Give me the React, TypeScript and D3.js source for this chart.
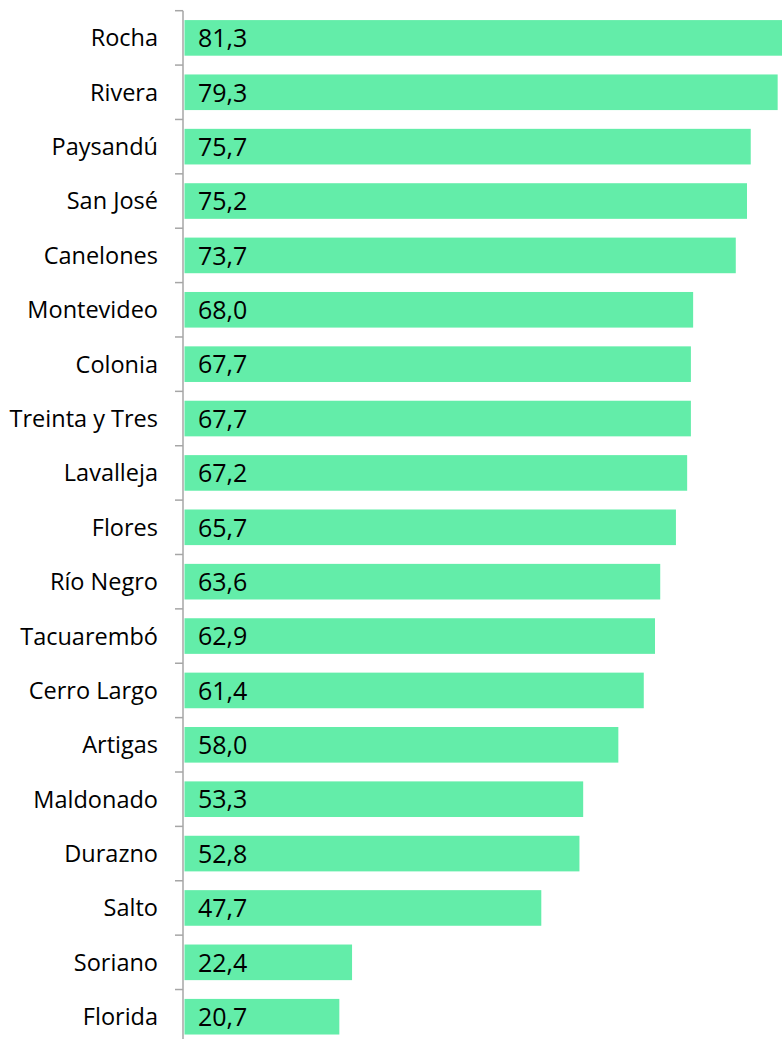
import { useRef, useEffect } from 'react'
import * as d3 from 'd3'

const categories = [
  'Rocha', 'Rivera', 'Paysandú', 'San José', 'Canelones', 'Montevideo', 'Colonia',
  'Treinta y Tres', 'Lavalleja', 'Flores', 'Río Negro', 'Tacuarembó', 'Cerro Largo',
  'Artigas', 'Maldonado', 'Durazno', 'Salto', 'Soriano', 'Florida',
]
const values = [
  81.3, 79.3, 75.7, 75.2, 73.7, 68.0, 67.7, 67.7, 67.2, 65.7, 63.6, 62.9, 61.4,
  58.0, 53.3, 52.8, 47.7, 22.4, 20.7,
]

const width = 782
const height = 1039
const fontFamily = '"Open Sans", sans-serif'

export default function App() {
  const svgRef = useRef<SVGSVGElement>(null)

  useEffect(() => {
    if (!svgRef.current) return
    const svg = d3.select(svgRef.current)
    svg.selectAll('*').remove()

    const data = categories.map((c, i) => ({ name: c, value: values[i] }))

    const x = d3.scaleLinear().domain([0, 80]).range([184.5, 782.9])
    const y = d3.scaleBand<string>()
      .domain(categories)
      .range([10.7, 1043.9])
      .paddingInner(0.345)
      .paddingOuter(0.1725)

    // bars
    svg.append('g')
      .selectAll('rect')
      .data(data)
      .enter()
      .append('rect')
      .attr('x', x(0))
      .attr('y', d => y(d.name)!)
      .attr('width', d => x(d.value) - x(0))
      .attr('height', y.bandwidth())
      .style('fill', '#63eda9')

    // axis line + ticks between categories
    const axis = svg.append('g')
    axis.append('line')
      .attr('x1', 183).attr('x2', 183)
      .attr('y1', 10.7).attr('y2', height)
      .style('stroke', '#a6a6a6')
      .style('stroke-width', 1.5)

    const step = y.step()
    axis.selectAll('.tick')
      .data(d3.range(categories.length + 1))
      .enter()
      .append('line')
      .attr('class', 'tick')
      .attr('x1', 175).attr('x2', 183)
      .attr('y1', i => 10.7 + i * step)
      .attr('y2', i => 10.7 + i * step)
      .style('stroke', '#a6a6a6')
      .style('stroke-width', 1.5)

    // category labels
    svg.append('g')
      .selectAll('text')
      .data(data)
      .enter()
      .append('text')
      .attr('x', 158)
      .attr('y', d => y(d.name)! + y.bandwidth() / 2)
      .attr('dy', '0.36em')
      .attr('text-anchor', 'end')
      .style('font-family', fontFamily)
      .style('font-size', '23.5px')
      .style('fill', '#000')
      .text(d => d.name)

    // value labels
    svg.append('g')
      .selectAll('text')
      .data(data)
      .enter()
      .append('text')
      .attr('x', 198)
      .attr('y', d => y(d.name)! + y.bandwidth() / 2)
      .attr('dy', '0.37em')
      .style('font-family', fontFamily)
      .style('font-size', '25px')
      .style('fill', '#000')
      .text(d => d3.format('.1f')(d.value).replace('.', ','))
  }, [])

  return (
    <svg
      ref={svgRef}
      width={width}
      height={height}
      style={{ position: 'absolute', left: 0, top: 0, background: '#fff' }}
    />
  )
}
